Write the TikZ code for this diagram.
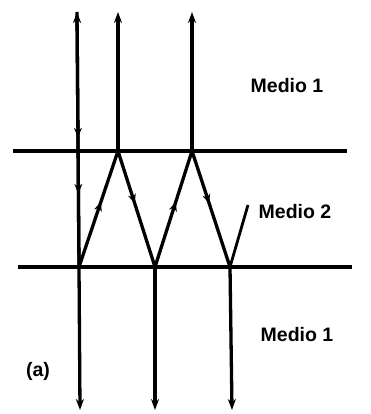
\documentclass[tikz,border=0pt]{standalone}
\usepackage{fontspec}
\setmainfont{Liberation Sans}
\usetikzlibrary{arrows.meta,decorations.markings}
\begin{document}
\begin{tikzpicture}[x=1pt,y=-1pt,
  line/.style={line width=3.3pt},
  tipend/.style={-{Stealth[length=11pt,width=8pt]}},
  midarrow/.style={postaction={decorate},decoration={markings,
     mark=at position #1 with {\arrow{Stealth[length=9pt,width=8pt]}}}},
  lbl/.style={font=\bfseries\fontsize{19.5}{22}\selectfont, inner sep=0pt}]
\useasboundingbox (0,0) rectangle (371,414);
% interfaces
\coordinate (I1a) at (13,151); \coordinate (I1b) at (347,151);
\coordinate (I2a) at (18,267); \coordinate (I2b) at (352,267);
\draw[line] (I1a) -- (I1b);
\draw[line] (I2a) -- (I2b);
% vertices
\coordinate (L0) at (77,12);
\coordinate (B1) at (79,267);
\coordinate (A1) at (118,151);
\coordinate (B2) at (155,267);
\coordinate (A2) at (192,151);
\coordinate (B3) at (230,267);
\coordinate (T1) at (118,12);
\coordinate (T2) at (192,12);
\coordinate (D1) at (80,410);
\coordinate (D2) at (155,410);
\coordinate (D3) at (232,410);
\coordinate (LD) at (248,205);
% left incident line
\draw[line,tipend] (B1) -- (L0);
\draw[line,
  postaction={decorate},decoration={markings,
    mark=at position 0.49 with {\arrow{Stealth[length=9pt,width=8pt]}},
    mark=at position 0.71 with {\arrow{Stealth[length=9pt,width=8pt]}}}]
  (L0) -- (B1);
% zigzag
\draw[line,midarrow=0.56] (B1) -- (A1);
\draw[line,midarrow=0.45] (A1) -- (B2);
\draw[line,midarrow=0.56] (B2) -- (A2);
\draw[line,midarrow=0.45] (A2) -- (B3);
% transmitted up
\draw[line,tipend] (A1) -- (T1);
\draw[line,tipend] (A2) -- (T2);
% transmitted down
\draw[line,tipend] (B1) -- (D1);
\draw[line,tipend] (B2) -- (D2);
\draw[line,tipend] (B3) -- (D3);
% leader
\draw[line width=2.8pt] (B3) -- (LD);
% labels
\node[lbl] (m1) at (287,86) {Medio 1};
\node[lbl] (m2) at (295,212) {Medio 2};
\node[lbl] (m3) at (297,335) {Medio 1};
\node[lbl] (a) at (38,371) {(a)};
\end{tikzpicture}
\end{document}
